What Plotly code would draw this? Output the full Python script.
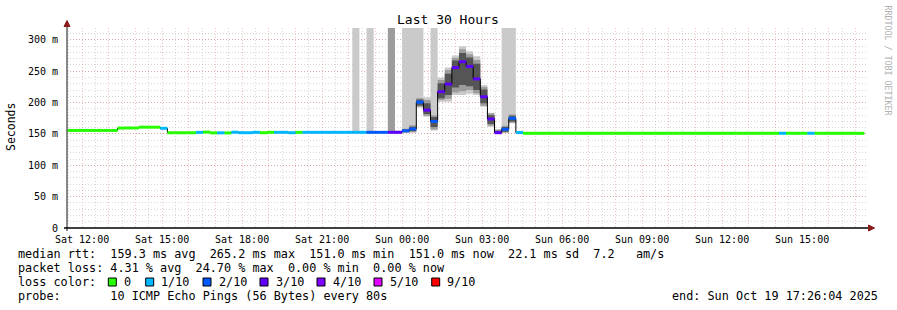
import plotly.graph_objects as go
from datetime import datetime, timedelta

# ---------------- data ----------------
FIRST_STEP = datetime(2025, 10, 18, 11, 12)      # start of first 16-min step
STEP = timedelta(minutes=16)
RANGE_START = datetime(2025, 10, 18, 11, 26, 4)
RANGE_END = datetime(2025, 10, 19, 17, 26, 4)

# median rtt per step (ms)
median_ms = [
    155.6, 155.6, 155.6, 155.6, 155.6, 155.6, 155.6, 155.6,
    159.4, 159.6, 159.6, 160.8, 160.8, 160.8, 159.0,
    151.9, 151.9, 151.9, 151.9, 152.5, 153.0, 151.7, 151.8, 151.7,
    152.8, 152.0, 152.0, 152.6, 152.0, 152.6, 152.6, 152.6, 152.0, 152.6,
    152.6, 152.6, 152.6, 152.6, 152.6, 152.6, 152.6, 152.6, 152.6,
    152.6, 152.6, 152.6, 152.6, 152.6,
    155.0, 158.0, 200.8, 188.0, 170.0, 217.3, 229.5, 255.8, 265.2,
    257.7, 237.8, 209.3, 173.8, 152.0, 157.5, 174.9, 152.2,
    151.1, 151.1, 151.1, 151.1, 151.1, 151.1, 151.1, 151.1, 151.1, 151.1,
    151.1, 151.1, 151.1, 151.1, 151.1, 151.1, 151.1, 151.1, 151.1, 151.1,
    151.1, 151.1, 151.1, 151.1, 151.1, 151.1, 151.1, 151.1, 151.1, 151.1,
    151.1, 151.1, 151.1, 151.1, 151.1, 151.1, 151.1, 151.1, 151.1, 151.1,
    151.1, 151.1, 151.1, 151.1, 151.1, 151.1, 151.1, 151.0,
]

# lost pings (out of 10) per step
loss_tenths = [
    0, 0, 0, 0, 0, 0, 0, 0,
    0, 0, 0, 0, 0, 0, 1,
    0, 0, 0, 0, 1, 0, 0, 1, 0,
    1, 1, 1, 1, 0, 0, 1, 1, 1, 0,
    1, 1, 1, 1, 1, 1, 1, 1, 1,
    2, 2, 2, 3, 3,
    2, 2, 2, 3, 2, 3, 3, 3, 3,
    3, 3, 3, 3, 3, 2, 2, 1,
    0, 0, 0, 0, 0, 0, 0, 0, 0, 0,
    0, 0, 0, 0, 0, 0, 0, 0, 0, 0,
    0, 0, 0, 0, 0, 0, 0, 0, 0, 0,
    0, 0, 0, 0, 0, 0, 1, 0, 0, 0,
    1, 0, 0, 0, 0, 0, 0, 0,
]

# smoke (sorted ping spread) for the steps where it is visible; 400 = lost ping (off scale)
SMOKE_FIRST = 41   # index into median_ms of first smoke step
smoke_min = [151.8, 151.8, 151.8, 151.8, 151.8, 151.8, 151.8, 151.5, 152.0, 192.0, 177.5, 155.5,
             201.5, 201.5, 212.0, 212.0, 214.0, 212.0, 193.5, 161.5, 151.3, 151.5, 167.0, 151.4]
smoke_lo = [152.1, 152.1, 152.1, 152.1, 152.1, 152.1, 152.1, 152.4, 153.5, 193.5, 179.0, 157.0,
            204.0, 206.0, 216.0, 218.0, 220.0, 215.0, 195.0, 163.0, 151.6, 152.5, 168.0, 151.7]
smoke_q1 = [152.3, 152.3, 152.3, 152.3, 152.3, 152.3, 152.4, 153.0, 154.5, 195.5, 182.0, 161.0,
            207.0, 212.0, 224.0, 228.0, 226.0, 220.0, 199.0, 166.0, 151.8, 153.5, 170.0, 152.0]
smoke_q3 = [153.0, 153.0, 153.0, 153.0, 153.0, 153.0, 153.2, 157.0, 161.5, 205.0, 199.0, 177.0,
            231.0, 246.0, 267.0, 279.0, 272.0, 262.0, 221.0, 180.0, 155.0, 161.0, 179.0, 152.8]
smoke_hi = [153.2, 153.4, 153.2, 153.6, 153.6, 400.0, 154.2, 158.5, 164.0, 207.0, 204.0, 180.0,
            236.0, 252.0, 271.0, 285.0, 277.0, 268.0, 225.0, 182.5, 156.5, 163.0, 181.0, 153.4]
smoke_max = [400.0, 154.2, 400.0, 154.4, 154.8, 400.0, 155.5, 400.0, 400.0, 400.0, 208.5, 400.0,
             240.0, 256.0, 275.0, 290.0, 282.0, 274.0, 228.0, 184.0, 158.0, 400.0, 400.0, 154.2]

loss_levels = [0, 1, 2, 3, 4, 5, 9]
loss_labels = ["0", "1/10", "2/10", "3/10", "4/10", "5/10", "9/10"]
loss_colors = ["#26ff00", "#00b8ff", "#0059ff", "#5e00ff", "#7e00ff", "#dd00ff", "#ff0000"]

y_tick_vals = [0, 50, 100, 150, 200, 250, 300]
y_tick_text = ["0", "50 m", "100 m", "150 m", "200 m", "250 m", "300 m"]

title_text = "Last 30 Hours"
y_title = "Seconds"
stats_lines = [
    "median rtt:  159.3 ms avg  265.2 ms max  151.0 ms min  151.0 ms now  22.1 ms sd  7.2   am/s",
    "packet loss: 4.31 % avg  24.70 % max  0.00 % min  0.00 % now",
]
probe_line = "probe:       10 ICMP Echo Pings (56 Bytes) every 80s"
end_line = "end: Sun Oct 19 17:26:04 2025"
watermark = "RRDTOOL / TOBI OETIKER"

# ---------------- layout helpers ----------------
W, H = 897, 310
PL, PR, PT, PB = 67, 867, 28, 228
MONO = "DejaVu Sans Mono"


def px(x):
    return (x - PL) / (PR - PL)


def py(y):
    return (PB - y) / (PB - PT)


def nb(s):
    return s.replace(" ", "\u00a0")


step_times = [FIRST_STEP + i * STEP for i in range(len(median_ms) + 1)]

fig = go.Figure()

# smoke bands (outer light -> inner dark)
sx = step_times[SMOKE_FIRST:SMOKE_FIRST + len(smoke_min) + 1]


def band(lo, hi, color):
    fig.add_trace(go.Scatter(x=sx, y=lo + [lo[-1]], mode="lines", line=dict(width=0, shape="hv"),
                             hoverinfo="skip", showlegend=False))
    fig.add_trace(go.Scatter(x=sx, y=hi + [hi[-1]], mode="lines", line=dict(width=0, shape="hv"),
                             fill="tonexty", fillcolor=color, hoverinfo="skip", showlegend=False))


band(smoke_min, smoke_max, "#cacaca")
band(smoke_lo, smoke_hi, "#9c9c9c")
band(smoke_q1, smoke_q3, "#555555")

# black median line
fig.add_trace(go.Scatter(x=step_times, y=median_ms + [median_ms[-1]], mode="lines",
                         line=dict(color="#000000", width=1, shape="hv"),
                         hoverinfo="skip", showlegend=False))

# loss-coloured median segments
for lvl, col in zip(loss_levels, loss_colors):
    xs, ys = [], []
    for i, (m, l) in enumerate(zip(median_ms, loss_tenths)):
        if l == lvl:
            xs += [step_times[i], step_times[i + 1], None]
            ys += [m, m, None]
    if xs:
        fig.add_trace(go.Scatter(x=xs, y=ys, mode="lines", line=dict(color=col, width=3),
                                 hoverinfo="skip", showlegend=False))

# x ticks: every hour grid, label every 3 hours
x_tick_vals = []
x_tick_text = []
t = datetime(2025, 10, 18, 12, 0)
while t < RANGE_END:
    x_tick_vals.append(t)
    x_tick_text.append(t.strftime("%a %H:%M") if t.hour % 3 == 0 else "")
    t += timedelta(hours=1)

MAJOR = "rgba(230,90,90,0.38)"
MINOR = "rgba(160,160,160,0.42)"
DASH = "1px,2px"

fig.update_xaxes(
    type="date", range=[RANGE_START, RANGE_END],
    tickmode="array", tickvals=x_tick_vals, ticktext=x_tick_text,
    showgrid=True, gridcolor=MAJOR, griddash=DASH, gridwidth=1,
    minor=dict(tickmode="linear", tick0="2025-10-18 00:30", dtick=3600000,
               showgrid=True, gridcolor=MINOR, griddash=DASH, gridwidth=1),
    showline=False, zeroline=False, ticks="", ticklabelstandoff=4,
    tickfont=dict(family=MONO, size=10, color="#000000"),
)
fig.update_yaxes(
    range=[0, 319], tickmode="array", tickvals=y_tick_vals, ticktext=y_tick_text,
    showgrid=True, gridcolor=MAJOR, griddash=DASH, gridwidth=1,
    minor=dict(tickmode="linear", tick0=0, dtick=10,
               showgrid=True, gridcolor=MINOR, griddash=DASH, gridwidth=1),
    showline=False, zeroline=False, ticks="", ticklabelstandoff=8,
    tickfont=dict(family=MONO, size=10, color="#000000"),
)

shapes = [
    # y axis line + arrow
    dict(type="line", xref="paper", yref="paper", x0=px(67), x1=px(67), y0=py(231), y1=py(24),
         line=dict(color="#606060", width=1.5)),
    dict(type="path", xref="paper", yref="paper",
         path=f"M {px(64)} {py(26.5)} L {px(70)} {py(26.5)} L {px(67)} {py(20.5)} Z",
         fillcolor="#8b1a1a", line=dict(color="#8b1a1a", width=1)),
    # x axis line + arrow
    dict(type="line", xref="paper", yref="paper", x0=px(64), x1=px(869), y0=py(228), y1=py(228),
         line=dict(color="#000000", width=1.5)),
    dict(type="path", xref="paper", yref="paper",
         path=f"M {px(868.5)} {py(225)} L {px(868.5)} {py(231)} L {px(874.5)} {py(228)} Z",
         fillcolor="#8b1a1a", line=dict(color="#8b1a1a", width=1)),
]

annotations = [
    dict(text=title_text, x=px(448), y=py(19), xref="paper", yref="paper", showarrow=False,
         xanchor="center", yanchor="middle", font=dict(family=MONO, size=13, color="#000000")),
    dict(text=y_title, x=px(11), y=py(127), xref="paper", yref="paper", showarrow=False,
         textangle=-90, xanchor="center", yanchor="middle",
         font=dict(family=MONO, size=11.5, color="#000000")),
    dict(text=nb(watermark), x=px(887.5), y=py(60), xref="paper", yref="paper", showarrow=False,
         textangle=90, xanchor="center", yanchor="middle",
         font=dict(family=MONO, size=8.3, color="#b0b0b0")),
]

line_y = [254.3, 268.3, 282.3, 296.3]
LF = dict(family=MONO, size=11.8, color="#000000")
for s, yy in zip(stats_lines, line_y[:2]):
    annotations.append(dict(text=nb(s), x=px(16), y=py(yy), xref="paper", yref="paper",
                            showarrow=False, xanchor="left", yanchor="middle", font=LF))
annotations.append(dict(text=nb("loss color:"), x=px(16), y=py(line_y[2]), xref="paper",
                        yref="paper", showarrow=False, xanchor="left", yanchor="middle", font=LF))
box_x = [108.3, 145.7, 203.0, 260.0, 317.0, 374.0, 431.7]
for bx, lab, col in zip(box_x, loss_labels, loss_colors):
    shapes.append(dict(type="rect", xref="paper", yref="paper", x0=px(bx), x1=px(bx + 8),
                       y0=py(286), y1=py(278), fillcolor=col, line=dict(color="#000000", width=1)))
    annotations.append(dict(text=lab, x=px(bx + 13.5), y=py(line_y[2]), xref="paper", yref="paper",
                            showarrow=False, xanchor="left", yanchor="middle", font=LF))
annotations.append(dict(text=nb(probe_line), x=px(16), y=py(line_y[3]), xref="paper", yref="paper",
                        showarrow=False, xanchor="left", yanchor="middle", font=LF))
annotations.append(dict(text=nb(end_line), x=px(880), y=py(line_y[3]), xref="paper", yref="paper",
                        showarrow=False, xanchor="right", yanchor="middle", font=LF))

fig.update_layout(
    width=W, height=H,
    margin=dict(l=PL, r=W - PR, t=PT, b=H - PB, pad=0),
    paper_bgcolor="#ffffff", plot_bgcolor="#ffffff",
    showlegend=False, shapes=shapes, annotations=annotations,
)

fig.write_html("out.html", config={"displayModeBar": False})
